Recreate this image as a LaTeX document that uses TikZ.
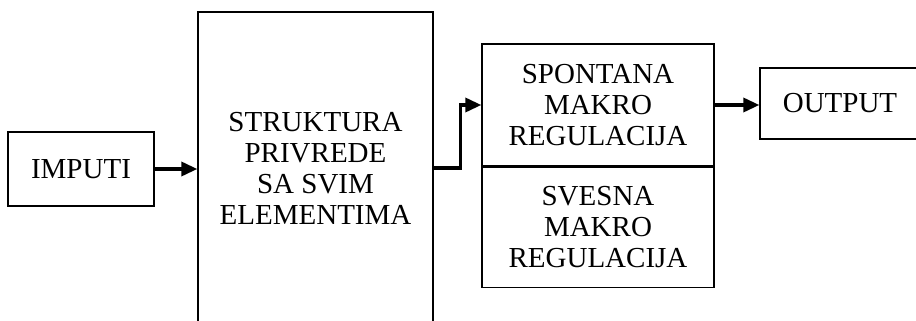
\documentclass[tikz,border=0pt]{standalone}
\usepackage{fontspec}
\setmainfont{Liberation Serif}
\usepackage{tikz}
\usetikzlibrary{positioning}
\usetikzlibrary{arrows.meta}
\tikzset{
  blok/.style={draw, line width=1.3pt, align=center, inner sep=0pt,
    font=\fontsize{29}{31}\selectfont},
  tok/.style={line width=3.4pt, -{Triangle[length=16pt,width=14pt]}}
}

\begin{document}
\begin{tikzpicture}[x=1pt,y=-1pt]
    \clip (0,0) rectangle (916,321);
    \fill[white] (0,0) rectangle (916,321);

    \node[blok, minimum width=146pt, minimum height=74pt] (imputi) at (81,169) {IMPUTI};
    \node[blok, minimum width=235pt, minimum height=312pt] (struktura) at (315.5,168)
        {STRUKTURA\\PRIVREDE\\SA SVIM\\ELEMENTIMA};

    \node[blok, minimum width=232pt, minimum height=122pt] (spontana) at (598,105)
        {SPONTANA\\MAKRO\\REGULACIJA};
    \node[blok, minimum width=232pt, minimum height=120pt, below=0pt of spontana] (svesna)
        {SVESNA\\MAKRO\\REGULACIJA};

    \node[blok, minimum width=160pt, minimum height=71pt] (output) at (840,103.5) {OUTPUT};

    \draw[tok] (imputi.east) -- (imputi.east -| struktura.west);
    \draw[tok] (struktura.east) -- ++(27,0) |- (spontana.west);
    \draw[tok] (spontana.east) -- (spontana.east -| output.west);
  \end{tikzpicture}
\end{document}
